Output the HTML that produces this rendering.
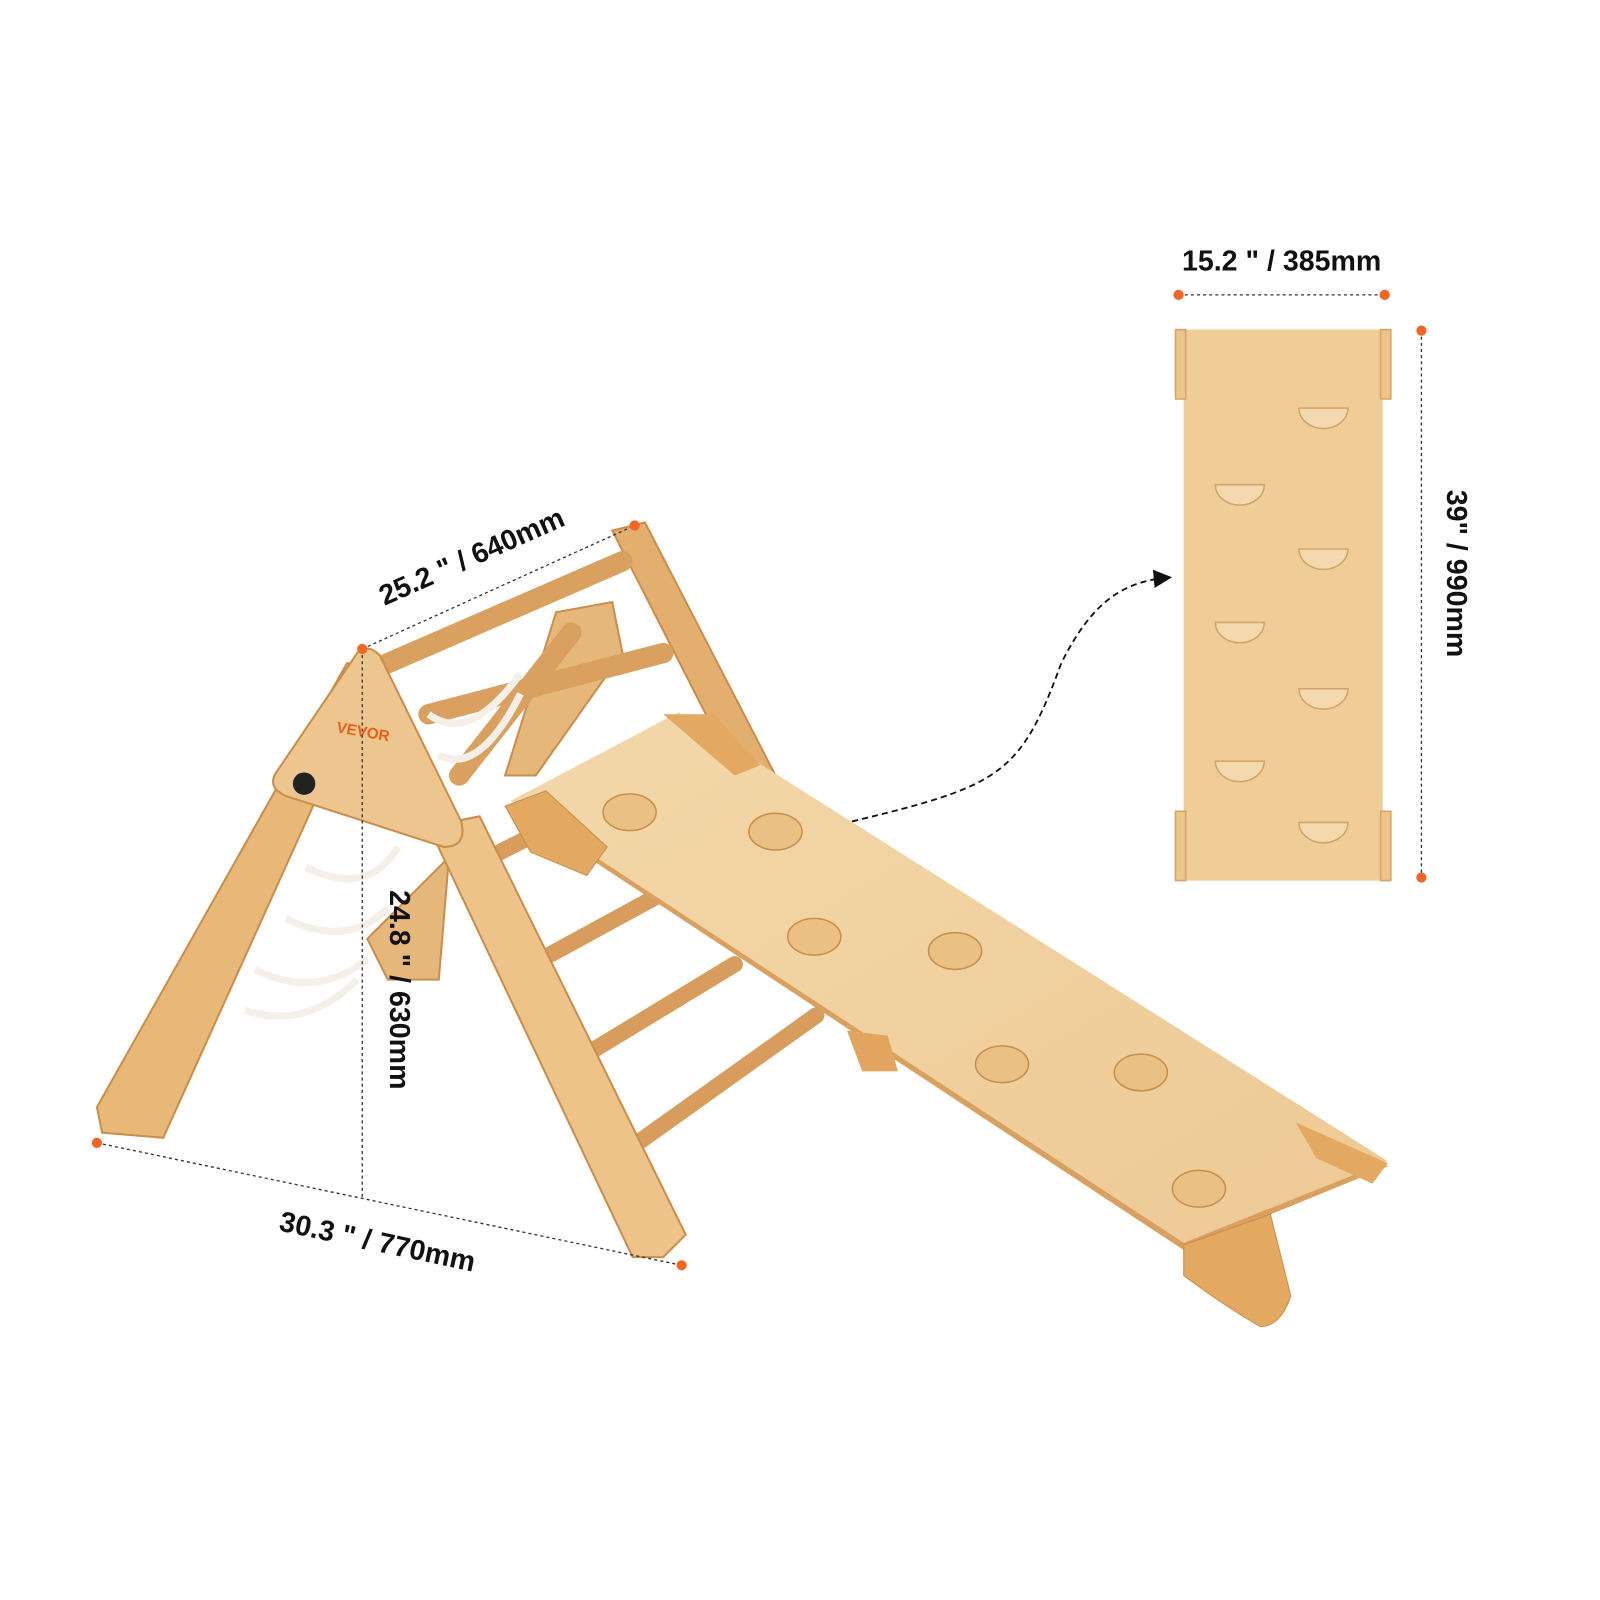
<!DOCTYPE html>
<html><head><meta charset="utf-8"><style>
html,body{margin:0;padding:0;background:#fff;}
svg{display:block;}
text{font-family:"Liberation Sans",Arial,sans-serif;font-weight:bold;fill:#111;}
</style></head><body>
<svg width="1600" height="1600" viewBox="0 0 1568 1568" xmlns="http://www.w3.org/2000/svg">
<defs>
<linearGradient id="wd" x1="0" y1="0" x2="1" y2="1">
<stop offset="0" stop-color="#F4D8AA"/><stop offset="1" stop-color="#EDC994"/></linearGradient>
<marker id="ah" markerWidth="10" markerHeight="10" refX="8" refY="5" orient="auto"><path d="M0,0 L10,5 L0,10 z" fill="#111"/></marker>
</defs>

<!-- back A-frame legs -->
<polygon points="600,520 632,512 760,760 730,775" fill="#E3AF6E" stroke="#C98E4C" stroke-width="2"/>
<polygon points="545,600 600,590 610,640 525,760 495,760" fill="#E6B77A" stroke="#C98E4C" stroke-width="2"/>
<g stroke="#D9A060" stroke-width="20" stroke-linecap="round">
<line x1="380" y1="650" x2="610" y2="550"/>
<line x1="420" y1="700" x2="650" y2="640"/>
<line x1="450" y1="760" x2="560" y2="620"/>
</g>
<g stroke="#F4F0E8" stroke-width="7" fill="none">
<path d="M420,700 q40,30 90,-40"/><path d="M430,740 q40,20 80,-60"/>
<path d="M300,850 q60,30 90,-20"/><path d="M280,900 q60,30 100,-10"/>
<path d="M250,950 q60,30 110,-10"/><path d="M240,990 q60,20 110,-30"/>
</g>
<polygon points="340,650 370,650 160,1115 100,1110 95,1085" fill="#E8B878" stroke="#C98E4C" stroke-width="2"/>
<polygon points="360,920 440,840 430,960 380,960" fill="#E6B77A" stroke="#C98E4C" stroke-width="2"/>
<g stroke="#D89D5C" stroke-width="16" stroke-linecap="round">
<line x1="540" y1="935" x2="650" y2="875"/>
<line x1="580" y1="1030" x2="720" y2="945"/>
<line x1="625" y1="1120" x2="800" y2="995"/>
<line x1="490" y1="835" x2="560" y2="800"/>
</g>
<polygon points="420,810 470,800 672,1210 650,1232 620,1232" fill="#EDC38A" stroke="#C98E4C" stroke-width="2"/>
<path d="M350,640 Q360,630 372,642 L452,805 Q458,830 435,830 L280,780 Q262,772 270,758 Z" fill="#EDC58E" stroke="#C98E4C" stroke-width="2"/>
<text x="355" y="722" font-size="15" style="fill:#E8601C" transform="rotate(10 355 722)" text-anchor="middle">VEVOR</text>
<circle cx="298" cy="768" r="11" fill="#222"/>
<!-- slide board -->
<polygon points="500,790 665,703 1360,1143 1160,1225" fill="#D9A060"/>
<polygon points="500,785 665,698 1360,1138 1160,1218" fill="url(#wd)"/>
<polygon points="495,790 535,775 595,830 575,858 520,835" fill="#E3A960" stroke="#C98E4C"/>
<path d="M1160,1220 L1245,1190 L1265,1270 Q1255,1300 1235,1300 Q1200,1280 1160,1250 Z" fill="#E3A960" stroke="#C98E4C"/>
<polygon points="1270,1100 1360,1140 1345,1160 1290,1135" fill="#E3A960"/>
<polygon points="650,700 700,700 745,750 720,760" fill="#E3A960"/>
<polygon points="830,1010 870,1015 880,1050 845,1050" fill="#E1A560"/>
<g fill="#EBC084" stroke="#C98E4C" stroke-width="1.5">
<ellipse cx="617" cy="796" rx="26" ry="18"/><ellipse cx="760" cy="815" rx="26" ry="18"/>
<ellipse cx="798" cy="918" rx="26" ry="18"/><ellipse cx="936" cy="932" rx="26" ry="18"/>
<ellipse cx="982" cy="1043" rx="26" ry="18"/><ellipse cx="1118" cy="1051" rx="26" ry="18"/>
<ellipse cx="1175" cy="1165" rx="26" ry="18"/>
</g>

<!-- right panel -->
<rect x="1160" y="323" width="195" height="540" fill="#F0CC97"/>
<g fill="#EDC48A" stroke="#D2A468" stroke-width="1.5">
<rect x="1152" y="323" width="10" height="68"/><rect x="1353" y="323" width="10" height="68"/>
<rect x="1152" y="795" width="10" height="68"/><rect x="1353" y="795" width="10" height="68"/>
</g>
<g fill="#F5D9AE" stroke="#D2A468" stroke-width="1.5">
<path d="M1273,400 h48 a24,20 0 0 1 -48,0z"/>
<path d="M1191,475 h48 a24,20 0 0 1 -48,0z"/>
<path d="M1273,538 h48 a24,20 0 0 1 -48,0z"/>
<path d="M1191,610 h48 a24,20 0 0 1 -48,0z"/>
<path d="M1273,675 h48 a24,20 0 0 1 -48,0z"/>
<path d="M1191,746 h48 a24,20 0 0 1 -48,0z"/>
<path d="M1273,806 h48 a24,20 0 0 1 -48,0z"/>
</g>

<g stroke="#333" stroke-width="1.3" stroke-dasharray="3,3" fill="none">
<line x1="1155" y1="289" x2="1357" y2="289"/>
<line x1="1393" y1="324" x2="1393" y2="860"/>
<line x1="355" y1="636" x2="622" y2="515"/>
<line x1="355" y1="636" x2="355" y2="1175"/>
<line x1="95" y1="1120" x2="668" y2="1240"/>
</g>
<path d="M835,805 C980,770 1000,760 1040,650 C1070,590 1100,570 1145,566" fill="none" stroke="#111" stroke-width="1.8" stroke-dasharray="6,4" marker-end="url(#ah)"/>
<g fill="#F26522">
<circle cx="1155" cy="289" r="5"/><circle cx="1357" cy="289" r="5"/>
<circle cx="1393" cy="324" r="5"/><circle cx="1393" cy="860" r="5"/>
<circle cx="355" cy="636" r="5"/><circle cx="622" cy="515" r="5"/>
<circle cx="95" cy="1120" r="5"/><circle cx="668" cy="1240" r="5"/>
</g>

<text x="1256" y="265" font-size="28" text-anchor="middle">15.2 " / 385mm</text>
<text x="0" y="0" font-size="28" text-anchor="middle" transform="translate(1418,562) rotate(90)">39" / 990mm</text>
<text x="0" y="0" font-size="28" text-anchor="middle" transform="translate(466,554) rotate(-24)">25.2 " / 640mm</text>
<text x="0" y="0" font-size="28" text-anchor="middle" transform="translate(382,970) rotate(90)">24.8 " / 630mm</text>
<text x="0" y="0" font-size="28" text-anchor="middle" transform="translate(368,1226) rotate(12)">30.3 " / 770mm</text>
</svg>
</body></html>
